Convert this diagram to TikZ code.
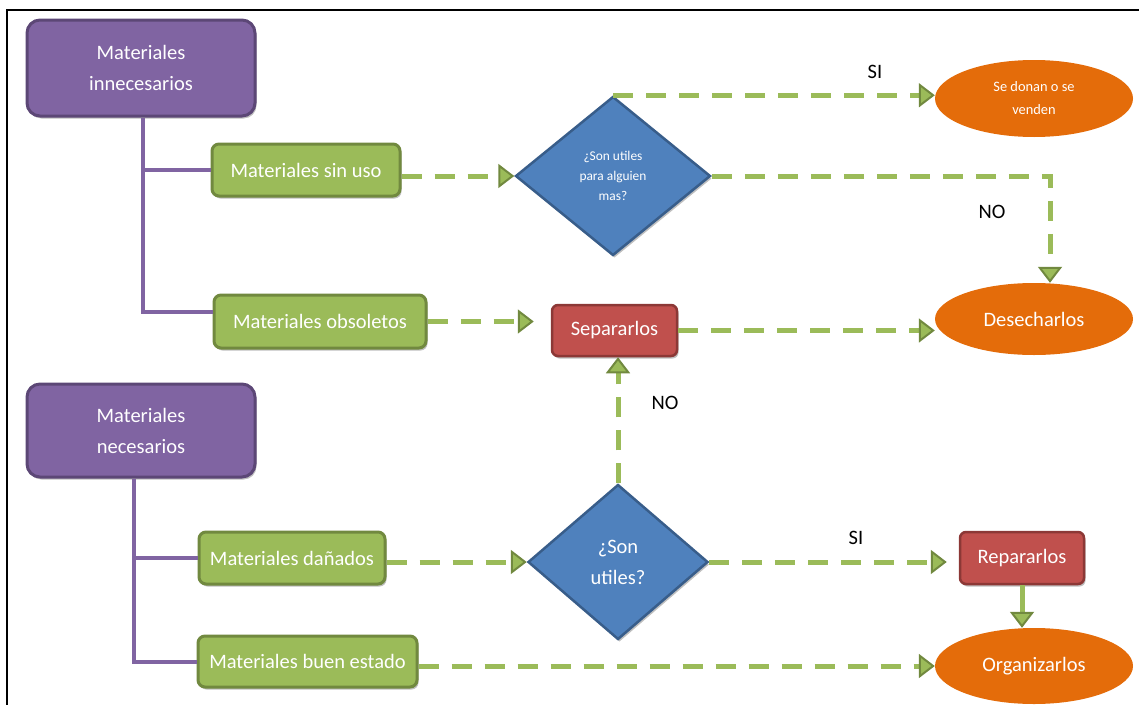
\documentclass[tikz,border=0pt]{standalone}
\usepackage{fontspec}
\setmainfont{Carlito}
\usetikzlibrary{arrows.meta,shapes.geometric,shadows}

\definecolor{purpfill}{HTML}{8064A2}
\definecolor{purpline}{HTML}{5C4776}
\definecolor{grnfill}{HTML}{9BBB59}
\definecolor{grnline}{HTML}{71893F}
\definecolor{redfill}{HTML}{C0504D}
\definecolor{redline}{HTML}{8C3836}
\definecolor{bluefill}{HTML}{4F81BD}
\definecolor{blueline}{HTML}{385D8A}
\definecolor{orangefill}{HTML}{E46C0A}

\tikzset{
  base/.style={font=\fontsize{20.5}{31}\selectfont, text=white, align=center, inner sep=0pt},
  softshadow/.style={drop shadow={shadow xshift=1.5pt, shadow yshift=-2.5pt, opacity=0.25, fill=black}},
  catbox/.style={base, rectangle, draw=purpline, fill=purpfill, line width=3pt, rounded corners=13pt, softshadow},
  itembox/.style={base, rectangle, draw=grnline, fill=grnfill, line width=3pt, rounded corners=7pt, softshadow},
  actbox/.style={base, rectangle, draw=redline, fill=redfill, line width=2.5pt, rounded corners=6pt, softshadow},
  question/.style={base, diamond, draw=blueline, fill=bluefill, line width=2.5pt, softshadow},
  outcome/.style={base, ellipse, fill=orangefill},
  branch/.style={draw=purpfill, line width=4pt},
  tip/.style={-{Triangle[length=16pt,width=24pt,line width=2pt,fill=grnfill,color=grnline]}},
  flow/.style={draw=grnfill, line width=5pt, dash pattern=on 20pt off 13pt, tip},
  solidflow/.style={draw=grnfill, line width=5pt, tip},
  answer/.style={font=\fontsize{20.5}{24}\selectfont, text=black, inner sep=0pt},
}

\begin{document}
\begin{tikzpicture}[x=1pt,y=-1pt]
\useasboundingbox (0,0) rectangle (1139,704);

% frame
\draw[line width=2pt] (7,720) -- (7,10) -- (1150,10);

% categories and items
\node[catbox, minimum width=228pt, minimum height=96pt] (inn) at (141,68) {Materiales\\innecesarios};
\node[itembox, minimum width=188pt, minimum height=52pt] (sinuso) at (306,170) {Materiales sin uso};
\node[itembox, minimum width=212pt, minimum height=53pt] (obs) at (320,321.5) {Materiales obsoletos};

\node[catbox, minimum width=228pt, minimum height=93pt] (nec) at (141,430.5) {Materiales\\necesarios};
\node[itembox, minimum width=186pt, minimum height=52pt] (dan) at (292,558) {Materiales dañados};
\node[itembox, minimum width=219pt, minimum height=51pt] (buen) at (307.5,661.5) {Materiales buen estado};

% decisions
\node[question, minimum width=195pt, minimum height=159pt, font=\fontsize{13.4}{20}\selectfont] (d1) at (613,176) {¿Son utiles\\para alguien\\mas?};
\node[question, minimum width=180pt, minimum height=155pt] (d2) at (618,562) {¿Son\\utiles?};

% actions
\node[actbox, minimum width=125pt, minimum height=51pt] (sep) at (614.5,330.5) {Separarlos};
\node[actbox, minimum width=124pt, minimum height=52pt] (rep) at (1022,558) {Repararlos};

% outcomes
\node[outcome, minimum width=198pt, minimum height=77pt, font=\fontsize{14.4}{23}\selectfont] (don) at (1034,98.5) {Se donan o se\\venden};
\node[outcome, minimum width=198pt, minimum height=72pt] (des) at (1034,319) {Desecharlos};
\node[outcome, minimum width=198pt, minimum height=76pt] (org) at (1034,666) {Organizarlos};

% tree branches
\draw[branch] ([xshift=2pt]inn.south) |- ([yshift=10pt]obs.west);
\draw[branch] ([xshift=2pt]inn.south |- sinuso.west) -- (sinuso.west);
\draw[branch] ([xshift=-7pt]nec.south) |- (buen.west);
\draw[branch] ([xshift=-7pt]nec.south |- dan.west) -- (dan.west);

% flow connectors
\draw[flow] (sinuso.east |- d1.west) -- (d1.west);
\draw[flow] (d1.north) -- (d1.north -| don.west);
\draw[flow] (d1.east) -| ([xshift=16pt]des.north);
\draw[flow, shorten >=17pt] (obs.east) -- (obs.east -| sep.west);
\draw[flow] (sep.east) -- (sep.east -| des.west);
\draw[flow] (d2.north) -- (d2.north |- sep.south);
\draw[flow] (dan.east |- d2.west) -- (d2.west);
\draw[flow, shorten >=12pt] (d2.east) -- (d2.east -| rep.west);
\draw[solidflow] (rep.south) -- (rep.south |- org.north);
\draw[flow] (buen.east |- org.west) -- (org.west);

% answer labels
\node[answer] (si1) at (875,72) {SI};
\node[answer] (no1) at (992,212) {NO};
\node[answer] (no2) at (665,403) {NO};
\node[answer] (si2) at (856,538) {SI};
\end{tikzpicture}
\end{document}
